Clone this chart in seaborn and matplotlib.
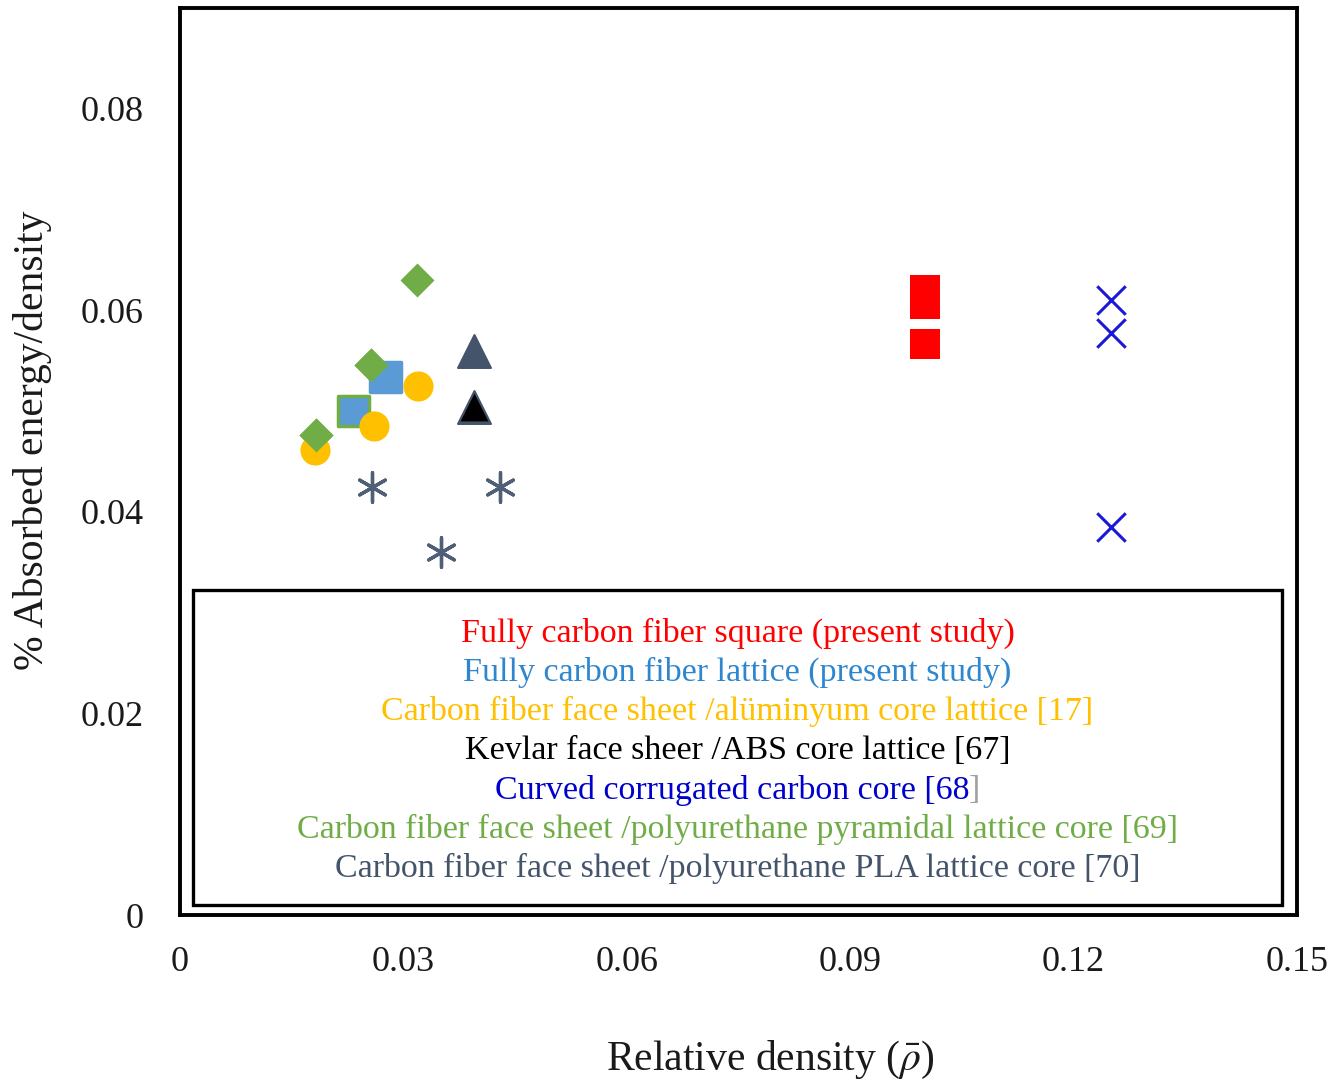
import matplotlib
matplotlib.use("Agg")
import matplotlib.pyplot as plt
from matplotlib.patches import Rectangle
import seaborn as sns

sns.set_theme(style="white")
plt.rcParams["font.family"] = ["Liberation Serif", "DejaVu Serif"]
plt.rcParams["mathtext.fontset"] = "stix"

# Series: relative density (x) and absorbed energy / density (y)
sq_x = [0.100, 0.100, 0.100]
sq_y = [0.0620, 0.0606, 0.0567]

lat_x = [0.0276, 0.0233]
lat_y = [0.0534, 0.0500]

alu_x = [0.0319, 0.0260, 0.0181]
alu_y = [0.0525, 0.0485, 0.0461]

kev_x = [0.0395, 0.0395]
kev_y = [0.0560, 0.0504]

cur_x = [0.125, 0.125, 0.125]
cur_y = [0.0610, 0.0578, 0.0385]

pyr_x = [0.0318, 0.0257, 0.0183]
pyr_y = [0.0630, 0.0546, 0.0476]

pla_x = [0.0258, 0.0430, 0.0350]
pla_y = [0.0425, 0.0425, 0.0360]

x_ticks = [0, 0.03, 0.06, 0.09, 0.12, 0.15]
x_tick_labels = ["0", "0.03", "0.06", "0.09", "0.12", "0.15"]
y_ticks = [0, 0.02, 0.04, 0.06, 0.08]
y_tick_labels = ["0", "0.02", "0.04", "0.06", "0.08"]

legend_lines = [
    ("Fully carbon fiber square (present study)", "#FF0000"),
    ("Fully carbon fiber lattice (present study)", "#2E86CF"),
    ("Carbon fiber face sheet /alüminyum core lattice [17]", "#FFC000"),
    ("Kevlar face sheer /ABS core lattice [67]", "#000000"),
    ("Curved corrugated carbon core [68]", "#0000CC"),
    ("Carbon fiber face sheet /polyurethane pyramidal lattice core [69]", "#70AD47"),
    ("Carbon fiber face sheet /polyurethane PLA lattice core [70]", "#44546A"),
]

W, H = 1344, 1086
fig = plt.figure(figsize=(W / 100, H / 100), dpi=100)
ax = fig.add_axes([180 / W, 1 - 915 / H, (1297 - 180) / W, (915 - 8) / H])

S = 470

sns.scatterplot(x=sq_x, y=sq_y, marker="s", s=S, color="#FF0000",
                linewidth=0, ax=ax, zorder=3)
sns.scatterplot(x=pyr_x, y=pyr_y, marker="D", s=300, color="#70AD47",
                linewidth=0, ax=ax, zorder=3)
sns.scatterplot(x=alu_x, y=alu_y, marker="o", s=S, color="#FFC000",
                linewidth=0, ax=ax, zorder=4)
sns.scatterplot(x=lat_x, y=lat_y, marker="s", s=S, color="#5B9BD5",
                edgecolor=["#5B9BD5", "#70AD47"], linewidth=2.5, ax=ax, zorder=3)
# upper two diamonds sit in front of the lattice squares
sns.scatterplot(x=pyr_x[1:], y=pyr_y[1:], marker="D", s=300, color="#70AD47",
                linewidth=0, ax=ax, zorder=5)
sns.scatterplot(x=kev_x, y=kev_y, marker="^", s=560,
                color="#44546A", edgecolor="#44546A", linewidth=1.5, ax=ax, zorder=3)
sns.scatterplot(x=kev_x[1:], y=kev_y[1:], marker="^", s=400,
                color="#000000", linewidth=0, ax=ax, zorder=4)
sns.scatterplot(x=cur_x, y=cur_y, marker="x", s=420, color="#1A1AD6",
                linewidth=2.2, ax=ax, zorder=3)
sns.scatterplot(x=pla_x, y=pla_y, marker=(6, 2, 0), s=450, color="#4F5F78",
                linewidth=2.4, ax=ax, zorder=3)

ax.set_xlim(0, 0.15)
ax.set_ylim(0, 0.09)
ax.set_xticks(x_ticks)
ax.set_xticklabels(x_tick_labels)
ax.set_yticks(y_ticks)
ax.set_yticklabels(y_tick_labels)
ax.tick_params(axis="both", which="both", length=0, labelsize=26,
               labelcolor="#1a1a1a")
ax.tick_params(axis="y", pad=26)
ax.tick_params(axis="x", pad=22)
for sp in ax.spines.values():
    sp.set_visible(True)
    sp.set_color("black")
    sp.set_linewidth(2.8)

ax.set_xlabel(r"Relative density ($\bar{\rho}$)", fontsize=30, color="#1a1a1a")
ax.set_ylabel("% Absorbed energy/density", fontsize=30, color="#1a1a1a")
ax.xaxis.set_label_coords((770 - 180) / (1297 - 180), -(1060 - 915) / (915 - 8))
ax.xaxis.label.set_va("center")
ax.yaxis.set_label_coords(-(180 - 33) / (1297 - 180), (915 - 440) / (915 - 8))
ax.yaxis.label.set_va("center")

# Boxed key inside the axes
box = Rectangle((193 / W, 1 - 905 / H), (1282 - 193) / W, (905 - 590) / H,
                transform=fig.transFigure, facecolor="white", edgecolor="black",
                linewidth=2.4, zorder=6)
fig.add_artist(box)
cx = (193 + 1282) / 2 / W
y0 = 633
fs = 24.5
renderer = fig.canvas.get_renderer()
for i, (txt, col) in enumerate(legend_lines):
    yy = 1 - (y0 + i * 39.3) / H
    if txt.endswith("[68]"):
        # closing bracket of this entry is drawn in grey
        full = fig.text(cx, yy, txt, fontsize=fs, ha="center", va="center")
        bb = full.get_window_extent(renderer)
        full.remove()
        br = fig.text(bb.x1 / W, yy, "]", color="#A0A0A0", fontsize=fs,
                      ha="right", va="center", zorder=7)
        bbb = br.get_window_extent(renderer)
        fig.text(bbb.x0 / W, yy, txt[:-1], color=col, fontsize=fs,
                 ha="right", va="center", zorder=7)
    else:
        fig.text(cx, yy, txt, color=col, fontsize=fs,
                 ha="center", va="center", zorder=7)

fig.savefig("out.png", dpi=100)
